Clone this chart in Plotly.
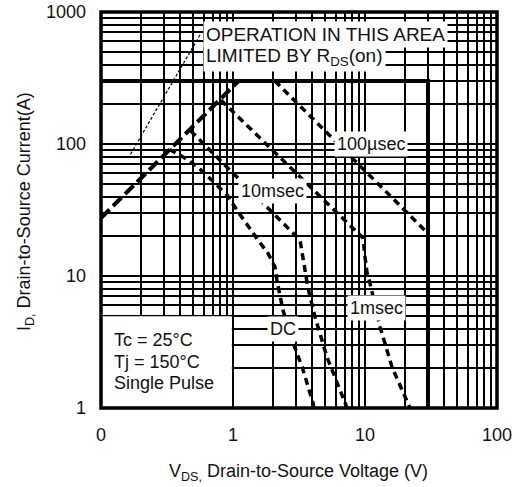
import numpy as np
import plotly.graph_objects as go

# ---------------- data ----------------
rds_v = [0.1, 1.1]
rds_i = [27.5, 300]

us100_v = [2.08, 30]
us100_i = [300, 21]

ms1_v = [0.81, 9.66, 10.0, 10.35, 10.9, 13.0, 16.0, 21.9]
ms1_i = [215, 19.4, 13.9, 10.7, 8.85, 4.11, 2.05, 1.0]

ms10_v = [0.477, 3.22, 3.39, 3.51, 3.70, 4.18, 5.15, 6.47, 7.31]
ms10_i = [126, 18.7, 13.7, 11.1, 8.1, 4.89, 2.43, 1.37, 1.0]

dc_v = [0.33, 0.418, 0.543, 0.693, 0.901, 1.07, 1.28, 1.55, 1.84, 2.08, 2.15, 2.27, 2.39, 2.80, 3.34, 4.04, 4.11]
dc_i = [91, 79.8, 67.0, 53.3, 41.1, 31.6, 24.3, 18.7, 14.9, 11.7, 9.33, 6.93, 5.52, 3.27, 2.05, 1.09, 1.0]

leader_v = [0.562, 0.166]
leader_i = [670, 82.6]

id_max = 300
vds_max = 30

x_ticks = [0.1, 1, 10, 100]
x_ticktext = ["0", "1", "10", "100"]
y_ticks = [1, 10, 100, 1000]
y_ticktext = ["1", "10", "100", "1000"]

FONT = "Arial, Liberation Sans, sans-serif"
TXT = "#111111"

fig = go.Figure()

curve_style = dict(color="black", width=3.5, dash="7px,5px")

fig.add_trace(go.Scatter(x=leader_v, y=leader_i, mode="lines",
                         line=dict(color="black", width=1.2, dash="3px,2px")))
fig.add_trace(go.Scatter(x=[0.1, vds_max, vds_max], y=[id_max, id_max, 1], mode="lines",
                         line=dict(color="black", width=4)))
fig.add_trace(go.Scatter(x=rds_v, y=rds_i, mode="lines",
                         line=dict(color="black", width=4, dash="12px,5px")))
fig.add_trace(go.Scatter(x=us100_v, y=us100_i, mode="lines", line=curve_style))
fig.add_trace(go.Scatter(x=ms1_v, y=ms1_i, mode="lines", line=curve_style))
fig.add_trace(go.Scatter(x=ms10_v, y=ms10_i, mode="lines", line=curve_style))
fig.add_trace(go.Scatter(x=dc_v, y=dc_i, mode="lines", line=curve_style))

# full log grids: 1..9 in every decade, labels only at decades
def log_grid(lo, hi):
    vals = []
    for d in range(lo, hi):
        for k in range(1, 10):
            vals.append(k * 10.0 ** d)
    vals.append(10.0 ** hi)
    return vals

def labels(vals, ticks, texts):
    out = []
    for v in vals:
        lab = ""
        for t, s in zip(ticks, texts):
            if abs(v - t) < 1e-9 * max(1, t):
                lab = s
        out.append(lab)
    return out

xv = log_grid(-1, 2)
yv = log_grid(0, 3)
xt = labels(xv, x_ticks, x_ticktext)
yt = labels(yv, y_ticks, y_ticktext)

fig.update_xaxes(type="log", range=[-1, 2], tickvals=xv, ticktext=xt,
                 showgrid=True, gridcolor="black", gridwidth=2, automargin=False,
                 ticks="", ticklabelstandoff=14, showline=False, zeroline=False,
                 tickfont=dict(family=FONT, size=18, color=TXT))
fig.update_yaxes(type="log", range=[0, 3], tickvals=yv, ticktext=yt,
                 showgrid=True, gridcolor="black", gridwidth=2, automargin=False,
                 ticks="", ticklabelstandoff=14, showline=False, zeroline=False,
                 tickfont=dict(family=FONT, size=18, color=TXT))

def px_x(p):
    return (p - 101) / 396.0

def px_y(p):
    return (408 - p) / 396.0

shapes = [
    # white box behind the conditions text
    dict(type="rect", xref="paper", yref="paper", x0=0, x1=1 / 3.0 - 0.003,
         y0=0, y1=np.log10(4.95) / 3.0, fillcolor="white", line=dict(width=0), layer="above"),
    # frame
    dict(type="rect", xref="paper", yref="paper", x0=0, x1=1, y0=0, y1=1,
         line=dict(color="black", width=3.5), layer="above"),
]

ann = []
def add_text(text, x, y, xanchor="center", bg=None, size=18, angle=0):
    d = dict(text=text, xref="paper", yref="paper", x=x, y=y, xanchor=xanchor,
             yanchor="middle", showarrow=False, textangle=angle,
             font=dict(family=FONT, size=size, color=TXT))
    if bg:
        d.update(bgcolor=bg, borderpad=2)
    ann.append(d)

add_text("OPERATION IN THIS AREA", px_x(203), px_y(35), "left", "white", 19)
add_text("LIMITED BY R<sub>DS</sub>(on)", px_x(203), px_y(57), "left", "white", 19)
add_text("100µsec", px_x(371), px_y(144), "center", "white", 18)
add_text("10msec", px_x(272), px_y(191), "center", "white", 18)
add_text("1msec", px_x(376), px_y(308), "center", "white", 18)
add_text("DC", px_x(283), px_y(329), "center", "white", 18)
add_text("Tc = 25°C", px_x(112), px_y(340), "left", None, 18)
add_text("Tj = 150°C", px_x(112), px_y(362), "left", None, 18)
add_text("Single Pulse", px_x(112), px_y(383), "left", None, 18)
add_text("V<sub>DS,</sub> Drain-to-Source Voltage (V)", px_x(298), px_y(472), "center", None, 18)
add_text("I<sub>D,</sub> Drain-to-Source Current(A)", px_x(26), px_y(212), "center", None, 18, -90)

fig.update_layout(width=523, height=487, margin=dict(l=101, r=26, t=12, b=79, autoexpand=False),
                  plot_bgcolor="white", paper_bgcolor="white", showlegend=False,
                  shapes=shapes, annotations=ann)

fig.write_html("out.html", config={"displayModeBar": False},
               post_script="document.body.style.margin='0px';document.body.style.overflow='hidden';")
